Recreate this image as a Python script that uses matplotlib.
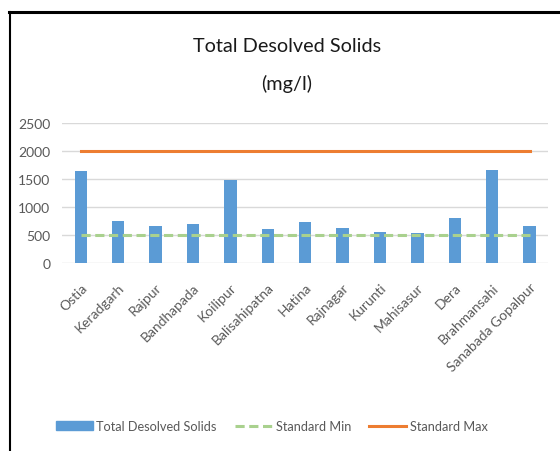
import matplotlib.pyplot as plt
from matplotlib.lines import Line2D
import numpy as np

plt.rcParams['font.family'] = ['Lato', 'DejaVu Sans']

sites = ["Ostia", "Keradgarh", "Rajpur", "Bandhapada", "Koilipur", "Balisahipatna",
         "Hatina", "Rajnagar", "Kurunti", "Mahisasur", "Dera", "Brahmansahi",
         "Sanabada Gopalpur"]
tds = [1645, 762, 672, 707, 1490, 607, 743, 636, 564, 546, 814, 1662, 672]
std_min = [500, 500, 500, 500, 500, 500, 500, 500, 500, 500, 500, 500, 500]
std_max = [2000, 2000, 2000, 2000, 2000, 2000, 2000, 2000, 2000, 2000, 2000, 2000, 2000]
yticks = [0, 500, 1000, 1500, 2000, 2500]

blue = "#5B9BD5"
orange = "#ED7D31"
green = "#A9D18E"
grey = "#595959"

fig = plt.figure(figsize=(5.6, 4.52), dpi=100)
ax = fig.add_axes([0.111, 0.415, 0.868, 0.31])

x = np.arange(len(sites))
ax.bar(x, tds, width=0.33, color=blue, zorder=3, label="Total Desolved Solids")
ax.plot(x, std_min, color=green, lw=2.2, ls=(0, (3, 1.5)), zorder=4, label="Standard Min")
ax.plot(x, std_max, color=orange, lw=2.2, zorder=4, label="Standard Max")

ax.set_xlim(-0.5, len(sites) - 0.5)
ax.set_ylim(0, 2500)
ax.set_yticks(yticks)
ax.yaxis.grid(True, color="#D9D9D9", lw=1, zorder=0)
for s in ax.spines.values():
    s.set_visible(False)
ax.tick_params(axis="both", length=0, colors=grey, labelsize=10)
ax.tick_params(axis="y", pad=8.5)
ax.set_xticks(x)
ax.set_xticklabels(sites, rotation=45, ha="right", va="top", rotation_mode="anchor")
ax.tick_params(axis="x", pad=12.5)

fig.text(0.512, 0.897, "Total Desolved Solids", ha="center", va="center", fontsize=14.3, color="#1a1a1a")
fig.text(0.512, 0.814, "(mg/l)", ha="center", va="center", fontsize=14.3, color="#1a1a1a")

handles = [plt.Rectangle((0, 0), 1, 1, color=blue),
           Line2D([], [], color=green, lw=2.2, ls=(0, (3, 1.5))),
           Line2D([], [], color=orange, lw=2.2)]
leg = fig.legend(handles, ["Total Desolved Solids", "Standard Min", "Standard Max"],
                 loc="center", bbox_to_anchor=(0.485, 1 - 427 / 452), ncol=3, frameon=False,
                 fontsize=9.2, handlelength=2.9, handletextpad=0.3, columnspacing=1.4,
                 handleheight=0.6)
for t in leg.get_texts():
    t.set_color(grey)

# border of the chart area
fig.add_artist(Line2D([9 / 560, 1], [1 - 13 / 452, 1 - 13 / 452], color="black", lw=2.2))
fig.add_artist(Line2D([10 / 560, 10 / 560], [0, 1 - 13 / 452], color="black", lw=1.5))

fig.savefig("out.png", dpi=100)
